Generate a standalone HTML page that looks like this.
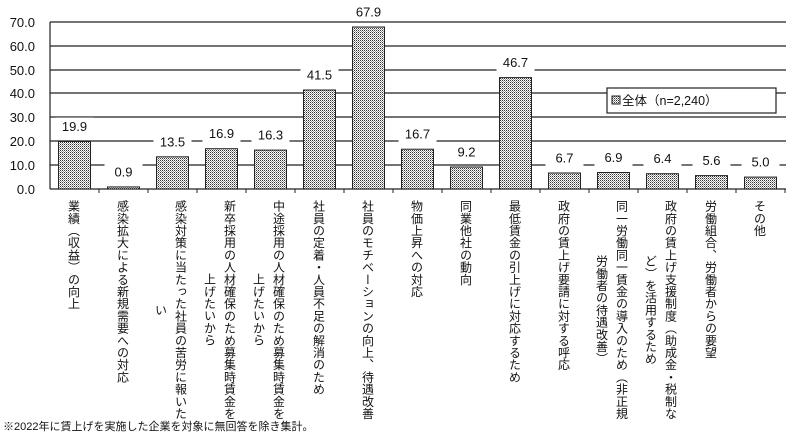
<!DOCTYPE html>
<html><head><meta charset="utf-8"><style>
html,body{margin:0;padding:0;background:#fff;width:800px;height:445px;overflow:hidden;position:relative}
svg{position:absolute;left:0;top:0}
.lab{position:absolute;top:200px;writing-mode:vertical-rl;text-align:center;font-family:"Liberation Sans","Noto Sans CJK JP",sans-serif;font-size:12px;line-height:20px;color:#111;letter-spacing:0.2px;white-space:nowrap;width:20px}
.two{width:40px}
.foot{position:absolute;left:3px;top:418px;font-family:"Liberation Sans","Noto Sans CJK JP",sans-serif;font-size:11px;color:#111}
</style></head><body>
<svg width="800" height="445" viewBox="0 0 800 445" font-family="Liberation Sans, Noto Sans CJK JP, sans-serif">
<defs>
<pattern id="dots" width="2" height="2" patternUnits="userSpaceOnUse">
<rect width="2" height="2" fill="#fff"/><rect width="1" height="1" fill="#333"/><rect x="1" y="1" width="1" height="1" fill="#999"/>
</pattern>
</defs>
<g stroke="#222" stroke-width="1.2">
<line x1="50" y1="22" x2="786" y2="22"/>
<line x1="50" y1="46" x2="786" y2="46"/>
<line x1="50" y1="70" x2="786" y2="70"/>
<line x1="50" y1="93" x2="786" y2="93"/>
<line x1="50" y1="117" x2="786" y2="117"/>
<line x1="50" y1="141" x2="786" y2="141"/>
<line x1="50" y1="165" x2="786" y2="165"/>
<line x1="50" y1="189" x2="786" y2="189"/>
<line x1="50" y1="22" x2="50" y2="189"/>
</g>
<g stroke="#222" stroke-width="1">
<line x1="99" y1="189" x2="99" y2="193"/><line x1="148" y1="189" x2="148" y2="193"/><line x1="197" y1="189" x2="197" y2="193"/><line x1="246" y1="189" x2="246" y2="193"/><line x1="295" y1="189" x2="295" y2="193"/><line x1="344" y1="189" x2="344" y2="193"/><line x1="393" y1="189" x2="393" y2="193"/><line x1="442" y1="189" x2="442" y2="193"/><line x1="491" y1="189" x2="491" y2="193"/><line x1="540" y1="189" x2="540" y2="193"/><line x1="589" y1="189" x2="589" y2="193"/><line x1="638" y1="189" x2="638" y2="193"/><line x1="687" y1="189" x2="687" y2="193"/><line x1="736" y1="189" x2="736" y2="193"/><line x1="785" y1="189" x2="785" y2="193"/>
</g>
<g font-size="13" fill="#111" text-anchor="end">
<text x="35" y="27">70.0</text><text x="35" y="51">60.0</text><text x="35" y="75">50.0</text><text x="35" y="98">40.0</text><text x="35" y="122">30.0</text><text x="35" y="146">20.0</text><text x="35" y="170">10.0</text><text x="35" y="194">0.0</text>
</g>
<g fill="url(#dots)" stroke="#222" stroke-width="1">
<rect x="58.5" y="141.5" width="32" height="47.5"/>
<rect x="107.5" y="186.9" width="32" height="2.1"/>
<rect x="156.5" y="156.8" width="32" height="32.2"/>
<rect x="205.5" y="148.7" width="32" height="40.3"/>
<rect x="254.5" y="150.1" width="32" height="38.9"/>
<rect x="303.5" y="90" width="32" height="99"/>
<rect x="352.5" y="27" width="32" height="162"/>
<rect x="401.5" y="149.2" width="32" height="39.8"/>
<rect x="450.5" y="167" width="32" height="22"/>
<rect x="499.5" y="77.6" width="32" height="111.4"/>
<rect x="548.5" y="173" width="32" height="16"/>
<rect x="597.5" y="172.5" width="32" height="16.5"/>
<rect x="646.5" y="173.7" width="32" height="15.3"/>
<rect x="695.5" y="175.6" width="32" height="13.4"/>
<rect x="744.5" y="177.1" width="32" height="11.9"/>
</g>
<g fill="#fff">
<rect x="55.5" y="117.5" width="38" height="18"/>
<rect x="104.5" y="162.9" width="38" height="18"/>
<rect x="153.5" y="132.8" width="38" height="18"/>
<rect x="202.5" y="124.7" width="38" height="18"/>
<rect x="251.5" y="126.1" width="38" height="18"/>
<rect x="300.5" y="66" width="38" height="18"/>
<rect x="349.5" y="3" width="38" height="18"/>
<rect x="398.5" y="125.2" width="38" height="18"/>
<rect x="447.5" y="143" width="38" height="18"/>
<rect x="496.5" y="53.6" width="38" height="18"/>
<rect x="545.5" y="149" width="38" height="18"/>
<rect x="594.5" y="148.5" width="38" height="18"/>
<rect x="643.5" y="149.7" width="38" height="18"/>
<rect x="692.5" y="151.6" width="38" height="18"/>
<rect x="741.5" y="153.1" width="38" height="18"/>
</g>
<g font-size="13" fill="#111" text-anchor="middle">
<text x="74.5" y="131">19.9</text>
<text x="123.5" y="176.4">0.9</text>
<text x="172.5" y="146.3">13.5</text>
<text x="221.5" y="138.2">16.9</text>
<text x="270.5" y="139.6">16.3</text>
<text x="319.5" y="79.5">41.5</text>
<text x="368.5" y="16.5">67.9</text>
<text x="417.5" y="138.7">16.7</text>
<text x="466.5" y="156.5">9.2</text>
<text x="515.5" y="67.1">46.7</text>
<text x="564.5" y="162.5">6.7</text>
<text x="613.5" y="162">6.9</text>
<text x="662.5" y="163.2">6.4</text>
<text x="711.5" y="165.1">5.6</text>
<text x="760.5" y="166.6">5.0</text>
</g>
<rect x="607" y="88" width="169" height="25" fill="#fff" stroke="#222" stroke-width="1.2"/>
<rect x="612" y="96" width="8" height="8" fill="url(#dots)" stroke="#222" stroke-width="1"/>
<text x="622" y="105" font-size="12.5" fill="#111">全体（n=2,240）</text>
</svg>
<div class="lab" style="left:63.5px">業績（収益）の向上</div>
<div class="lab" style="left:112.5px">感染拡大による新規需要への対応</div>
<div class="lab two" style="left:150.5px">感染対策に当たった社員の苦労に報いた<br>い</div>
<div class="lab two" style="left:199.5px">新卒採用の人材確保のため募集時賃金を<br>上げたいから</div>
<div class="lab two" style="left:248.5px">中途採用の人材確保のため募集時賃金を<br>上げたいから</div>
<div class="lab" style="left:308.5px">社員の定着・人員不足の解消のため</div>
<div class="lab" style="left:357.5px">社員のモチベーションの向上、待遇改善</div>
<div class="lab" style="left:406.5px">物価上昇への対応</div>
<div class="lab" style="left:455.5px">同業他社の動向</div>
<div class="lab" style="left:504.5px">最低賃金の引上げに対応するため</div>
<div class="lab" style="left:553.5px">政府の賃上げ要請に対する呼応</div>
<div class="lab two" style="left:591.5px">同一労働同一賃金の導入のため（非正規<br>労働者の待遇改善）</div>
<div class="lab two" style="left:640.5px">政府の賃上げ支援制度（助成金・税制な<br>ど）を活用するため</div>
<div class="lab" style="left:700.5px">労働組合、労働者からの要望</div>
<div class="lab" style="left:749.5px">その他</div>
<div class="foot">※2022年に賃上げを実施した企業を対象に無回答を除き集計。</div>
</body></html>
